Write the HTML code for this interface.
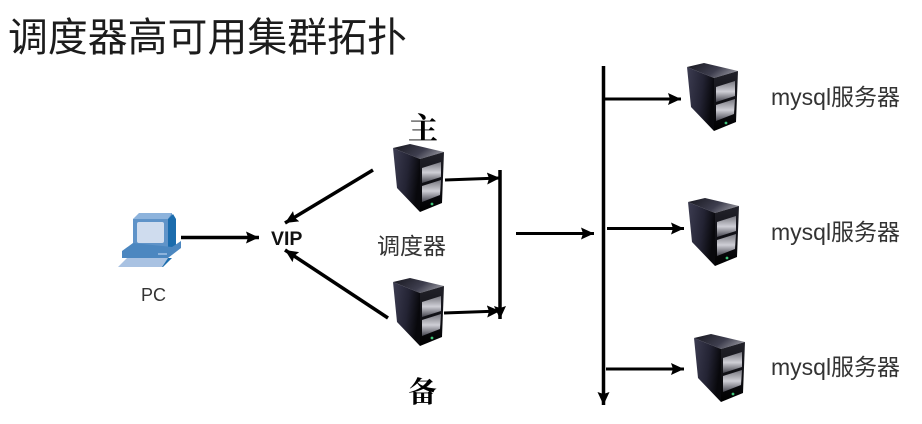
<!DOCTYPE html>
<html><head><meta charset="utf-8">
<style>
html,body{margin:0;padding:0;background:#fff;width:922px;height:424px;overflow:hidden}
svg{display:block;filter:blur(0.35px)}
.s{font-family:"Liberation Sans","Noto Sans CJK SC",sans-serif}
</style></head><body>
<svg width="922" height="424" viewBox="0 0 922 424" xmlns="http://www.w3.org/2000/svg">
<defs>
<linearGradient id="side" x1="0" y1="0" x2="1" y2="0.3"><stop offset="0" stop-color="#3d3d52"/><stop offset="0.6" stop-color="#232333"/><stop offset="1" stop-color="#08080c"/></linearGradient>
<linearGradient id="top" x1="0" y1="0" x2="1" y2="0.4"><stop offset="0" stop-color="#16161e"/><stop offset="0.65" stop-color="#3e3e4e"/><stop offset="1" stop-color="#85858f"/></linearGradient>
<linearGradient id="front" x1="0" y1="0" x2="0" y2="1"><stop offset="0" stop-color="#22222a"/><stop offset="0.7" stop-color="#0a0a0e"/><stop offset="1" stop-color="#000"/></linearGradient>
<linearGradient id="bay" x1="0" y1="0" x2="0" y2="1"><stop offset="0" stop-color="#77777f"/><stop offset="0.5" stop-color="#cfcfd6"/><stop offset="1" stop-color="#44444e"/></linearGradient>
<g id="srv">
<polygon points="0,4 17,0 51,8 27,15" fill="url(#top)"/>
<polygon points="0,4 27,15 27,68 4,44" fill="url(#side)"/>
<polygon points="27,15 51,8 49,59 27,68" fill="url(#front)"/>
<polygon points="29,24 48,18 48,33 29,39" fill="url(#bay)"/>
<polygon points="29,42 48,36 47,51 29,58" fill="url(#bay)"/>
<circle cx="39" cy="60" r="1.4" fill="#3fc67a"/>
</g>
<marker id="a" markerUnits="userSpaceOnUse" markerWidth="14" markerHeight="13" refX="13" refY="6.5" orient="auto"><polygon points="0,0.5 13,6.5 0,12.5 2,6.5" fill="#000"/></marker>
</defs>

<text x="8" y="51" class="s" font-size="39.9" fill="#1c1c1c">调度器高可用集群拓扑</text>

<!-- PC -->
<g>
<polygon points="141,213 172,213 172,247 133,247 133,219" fill="#5f93c8"/>
<polygon points="133,219 139,213 172,213 168,219" fill="#8db3dc"/>
<polygon points="168,219 173,214 176,219 176,247 168,247" fill="#1b6cad"/>
<rect x="137" y="222" width="27" height="21" rx="2" fill="#cfdcee"/>
<polygon points="122,251 133,243 172,247 181,241 181,248 168,258 122,258" fill="#4c87c0"/>
<rect x="158" y="253" width="9" height="2" fill="#8db3dc"/>
<polygon points="127,258 168,258 162,267 118,267" fill="#a9c2e2"/>
<polygon points="168,258 172,258 163,267 162,267" fill="#1b6cad"/>
</g>
<text x="141" y="301" class="s" font-size="18" fill="#333">PC</text>

<text x="271" y="245" class="s" font-size="19.5" font-weight="bold" fill="#111">VIP</text>

<g stroke="#000" fill="none">
<line x1="181" y1="237.5" x2="259" y2="237.5" stroke-width="3.5" marker-end="url(#a)"/>
<line x1="373" y1="170" x2="285" y2="223" stroke-width="3.5" marker-end="url(#a)"/>
<line x1="388" y1="318" x2="285" y2="250" stroke-width="3.5" marker-end="url(#a)"/>
<line x1="445" y1="180" x2="500" y2="178" stroke-width="3" marker-end="url(#a)"/>
<line x1="444" y1="313" x2="500" y2="311" stroke-width="3" marker-end="url(#a)"/>
<line x1="500" y1="170" x2="500" y2="319" stroke-width="3.5" marker-end="url(#a)"/>
<line x1="516" y1="233.5" x2="594" y2="233.5" stroke-width="3" marker-end="url(#a)"/>
<line x1="603.5" y1="66" x2="603.5" y2="405" stroke-width="3.5" marker-end="url(#a)"/>
<line x1="605" y1="99" x2="681" y2="99" stroke-width="3" marker-end="url(#a)"/>
<line x1="607" y1="228.5" x2="684" y2="228.5" stroke-width="3" marker-end="url(#a)"/>
<line x1="606" y1="369" x2="684" y2="369" stroke-width="3" marker-end="url(#a)"/>
</g>

<use href="#srv" x="393" y="144"/>
<use href="#srv" x="393" y="278"/>
<use href="#srv" x="687" y="63"/>
<use href="#srv" x="688" y="198"/>
<use href="#srv" x="694" y="334"/>

<text x="408" y="139" font-family="'Noto Serif CJK SC',serif" font-weight="bold" font-size="30" fill="#000">主</text>
<text x="408" y="402" font-family="'Noto Serif CJK SC',serif" font-weight="bold" font-size="29" fill="#000">备</text>
<text x="377" y="254" class="s" font-size="23" fill="#333">调度器</text>
<text x="771" y="105" class="s" font-size="23" fill="#333">mysql服务器</text>
<text x="771" y="240" class="s" font-size="23" fill="#333">mysql服务器</text>
<text x="771" y="375" class="s" font-size="23" fill="#333">mysql服务器</text>
</svg>
</body></html>
